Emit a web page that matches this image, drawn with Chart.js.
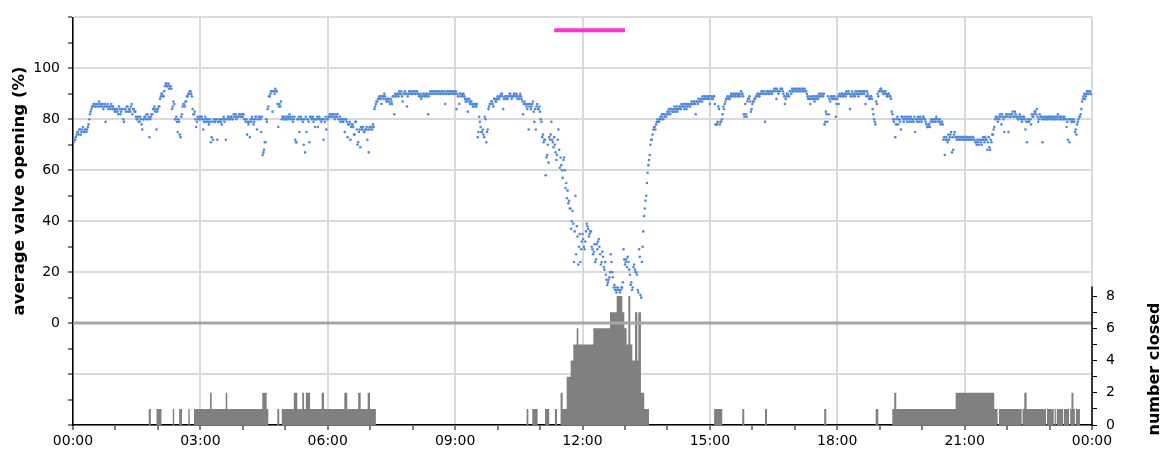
<!DOCTYPE html>
<html>
<head>
<meta charset="utf-8">
<title>Valve opening and closures over 24 hours</title>
<script src="https://cdn.jsdelivr.net/npm/chart.js@4.4.1/dist/chart.umd.min.js"></script>
<style>
  html, body { margin: 0; padding: 0; background: #fff; }
  #wrap { width: 1165px; height: 450px; }
</style>
</head>
<body>
<div id="wrap"><canvas id="c" width="1165" height="450"></canvas></div>
<script>
// Average valve opening (%), sampled every minute. One pair of rows per hour:
// "a" rows hold the even minutes (0, 2, ... 58), "b" rows the odd minutes (1, 3, ... 59).
const openingH00a = [70,72,73,75,74,76,75,77,75,76,76,78,82,84,85,86,85,86,86,85,86,86,85,79,85,84,85,86,84,84];
const openingH00b = [71,72,74,75,76,74,76,75,76,75,77,80,83,85,86,85,86,85,87,86,85,84,86,85,86,85,84,85,85,83];
const openingH01a = [83,84,82,84,83,84,79,84,85,83,84,85,82,84,83,80,81,79,80,76,80,81,82,80,73,81,82,84,83,76];
const openingH01b = [84,83,85,82,84,80,84,83,85,84,83,86,84,83,81,80,79,81,78,80,81,80,82,81,80,82,84,85,84,83];
const openingH02a = [84,85,89,90,89,93,94,93,92,93,84,87,80,81,75,79,73,82,86,85,87,89,90,91,89,82,83,77,81,80];
const openingH02b = [85,88,90,89,91,94,93,94,93,92,85,86,80,79,80,74,81,85,86,87,89,90,91,90,84,82,80,79,80,81];
const openingH03a = [80,81,76,80,79,80,78,79,73,72,79,80,72,79,80,78,80,79,72,80,81,80,81,80,81,82,81,81,82,81];
const openingH03b = [81,80,79,81,80,79,80,71,79,80,79,80,79,80,79,80,81,80,80,81,80,81,80,82,81,80,81,82,81,82];
const openingH04a = [81,80,79,74,78,73,79,80,79,81,76,80,81,75,66,68,71,79,85,89,91,83,91,92,91,77,86,87,81,80];
const openingH04b = [82,80,80,79,79,80,81,78,80,81,80,81,80,81,67,71,80,84,89,90,91,91,90,91,86,85,85,80,81,80];
const openingH05a = [81,80,81,82,80,81,80,72,71,80,75,81,80,70,67,75,80,71,81,80,79,77,80,77,81,80,80,72,79,76];
const openingH05b = [80,81,80,81,80,79,81,71,80,81,80,80,79,80,81,80,79,81,80,81,80,80,81,80,80,79,80,80,81,80];
const openingH06a = [80,81,82,81,82,80,81,82,80,79,80,79,75,80,73,78,72,78,77,74,79,70,75,69,76,77,75,76,72,67];
const openingH06b = [81,82,81,82,81,82,81,80,81,80,79,80,80,79,78,79,77,78,74,79,76,71,76,77,76,75,76,77,76,77];
const openingH07a = [76,77,78,84,86,87,88,89,86,89,90,88,87,88,86,87,89,82,89,90,89,90,91,87,90,90,85,90,91,90];
const openingH07b = [77,76,77,85,87,88,89,88,89,88,89,87,88,87,88,86,89,90,89,90,91,90,89,90,91,90,89,91,90,91];
const openingH08a = [90,91,90,91,90,89,88,89,90,89,89,82,90,91,90,91,90,91,90,91,90,91,90,86,90,91,90,90,91,90];
const openingH08b = [91,90,91,90,89,90,89,90,89,90,90,89,91,90,91,90,91,90,91,90,91,90,91,90,91,90,91,91,90,91];
const openingH09a = [90,84,89,86,90,89,90,88,87,83,88,87,86,85,86,85,73,81,77,75,74,81,71,76,85,86,87,85,88,87];
const openingH09b = [91,90,89,90,89,90,89,87,88,87,86,87,85,86,85,86,75,79,75,76,73,80,75,84,86,87,86,88,87,88];
const openingH10a = [89,88,89,90,84,88,89,88,89,90,88,89,90,89,88,89,90,88,82,87,86,84,76,86,85,87,79,76,86,84];
const openingH10b = [88,89,90,89,88,89,88,89,90,89,89,90,89,90,89,88,89,87,86,86,85,86,85,84,86,83,84,85,84,85];
const openingH11a = [83,79,74,72,58,66,63,72,79,71,73,67,66,76,61,62,57,65,53,49,47,45,37,44,24,50,38,23,35,29];
const openingH11b = [80,73,71,72,65,70,73,74,72,69,70,64,72,68,65,60,64,60,55,52,48,45,40,39,36,27,34,30,24,32];
const openingH12a = [35,30,32,39,37,35,36,29,28,24,31,32,30,23,28,22,24,17,16,18,27,20,14,13,12,14,13,13,14,29];
const openingH12b = [33,29,36,38,34,36,30,27,31,25,29,33,27,24,26,21,19,15,17,20,24,18,15,14,13,13,12,14,16,25];
const openingH13a = [23,25,26,21,15,13,22,21,20,13,29,11,24,36,45,50,59,64,70,72,76,77,78,80,79,81,82,80,82,81];
const openingH13b = [24,22,24,19,16,14,23,20,19,12,26,10,30,42,48,55,62,66,72,74,77,76,79,79,80,80,81,82,81,82];
const openingH14a = [83,84,82,84,83,85,84,83,84,85,86,85,84,86,85,86,85,87,86,87,82,87,88,87,88,89,88,89,88,89];
const openingH14b = [82,83,84,83,84,83,85,84,85,84,85,86,85,84,86,85,86,86,87,86,87,86,87,88,87,88,89,88,89,88];
const openingH15a = [86,89,88,89,78,78,85,78,79,82,84,87,88,89,88,90,89,90,89,90,89,90,91,90,82,86,81,88,89,83];
const openingH15b = [89,88,89,86,78,79,84,79,80,85,86,88,89,88,89,89,90,89,90,89,90,89,90,89,81,82,87,88,87,84];
const openingH16a = [86,87,88,89,90,89,90,91,90,79,90,91,90,91,90,91,92,88,91,91,92,92,90,86,89,90,89,91,92,91];
const openingH16b = [87,88,89,90,89,90,91,90,91,90,91,90,91,90,91,92,91,92,90,91,92,91,89,88,90,89,91,90,91,92];
const openingH17a = [91,92,91,92,91,92,91,92,91,89,88,86,88,89,87,88,89,90,89,90,89,78,83,79,82,87,89,88,89,81];
const openingH17b = [92,91,92,91,92,91,92,91,90,88,89,88,89,88,89,89,88,89,90,89,90,79,82,89,88,89,88,89,88,86];
const openingH18a = [88,86,89,90,89,90,89,90,91,84,90,89,90,91,90,89,91,90,91,90,86,91,89,88,89,84,80,78,86,89];
const openingH18b = [89,90,89,90,89,90,91,90,90,89,91,90,89,90,91,90,91,90,91,91,89,90,88,89,88,82,79,87,90,91];
const openingH19a = [91,92,91,90,91,89,90,89,88,82,79,73,80,78,80,76,81,79,80,81,80,79,81,80,79,75,80,81,79,80];
const openingH19b = [92,91,90,91,90,89,90,89,83,80,80,78,81,80,79,81,80,81,80,79,81,80,79,80,81,80,79,80,81,79];
const openingH20a = [80,81,80,78,77,78,79,80,79,80,81,80,79,78,79,72,66,73,71,72,74,67,68,75,73,72,73,72,73,72];
const openingH20b = [81,80,79,77,78,77,80,79,80,79,80,79,80,79,78,73,72,72,74,73,75,73,74,73,72,73,72,73,72,73];
const openingH21a = [73,72,73,72,73,72,73,72,71,72,70,72,70,73,71,72,68,73,68,71,74,77,81,80,81,82,78,81,75,81];
const openingH21b = [72,73,72,73,72,73,72,71,70,71,72,71,72,72,73,72,71,69,72,74,76,80,81,79,80,81,82,80,81,82];
const openingH22a = [82,75,81,82,83,81,82,81,80,82,81,80,81,76,71,79,80,78,81,82,83,84,79,82,81,71,80,81,80,81];
const openingH22b = [81,82,81,82,81,83,81,80,81,80,79,81,80,79,80,79,80,82,81,83,82,81,80,81,80,81,80,81,80,81];
const openingH23a = [80,81,80,81,80,81,82,80,81,80,81,80,77,72,71,80,79,80,75,74,79,81,82,87,89,88,90,90,91,90];
const openingH23b = [81,80,81,80,81,80,81,80,81,80,81,80,79,80,80,79,80,79,76,78,80,81,84,88,90,89,91,90,91,90];

// Number of closed valves: each count holds from its start minute until the next one.
const closedStartMin = [
  0, 107, 110, 118, 125, 141, 143, 150, 154, 163, 165,
  171, 193.6, 196, 215.8, 218, 267.5, 273.7, 276,
  288.7, 291.5, 295, 312, 317, 324, 326.5, 329, 335, 351.4, 354.7,
  383.4, 387.6, 403, 406.5, 416.4, 419.7, 428,
  641, 643.5, 649, 656.6, 667, 673, 681, 684,
  689, 692, 697.6, 703.3, 707, 711.8, 714.1, 735.3, 758.9, 768.3,
  776.3, 779.1, 782.4, 784.8, 787.6, 790.4, 794.2, 797.5, 798.9, 802.6, 807.3, 814,
  906, 917.5, 945.8, 948.6, 977.9, 980.7, 1061.6, 1064.5, 1134.3, 1138,
  1157.8, 1160.6, 1163.4, 1247.3, 1301.9, 1306.6, 1308.5, 1340.6, 1341.8,
  1344.3, 1347.6, 1375, 1376.4, 1386, 1387.2, 1389, 1390.2, 1399, 1400.2,
  1407.6, 1409.2, 1411, 1413.8, 1415.8, 1417.2, 1423, 1440
];
const closedCount = [
  0, 1, 0, 1, 0, 1, 0, 1, 0, 1, 0,
  1, 2, 1, 2, 1, 2, 1, 0,
  1, 0, 1, 2, 1, 2, 1, 2, 1, 2, 1,
  2, 1, 2, 1, 2, 1, 0,
  1, 0, 1, 0, 1, 0, 1, 0,
  2, 1, 3, 4, 5, 6, 5, 6, 7, 8,
  7, 6, 5, 8, 5, 4, 7, 4, 7, 2, 1, 0,
  1, 0, 1, 0, 1, 0, 1, 0, 1, 0,
  1, 2, 1, 2, 1, 0, 1, 0, 1,
  2, 1, 0, 1, 0, 1, 0, 1, 0, 1,
  0, 1, 2, 1, 0, 1, 0, 0
];

// Magenta marker interval near the top of the chart (minutes, level in %).
const markerStartMin = 680;
const markerEndMin = 780;
const markerLevel = 115;

// Axis ranges and tick labels.
const timeTickLabels = ['00:00','03:00','06:00','09:00','12:00','15:00','18:00','21:00','00:00'];
const openingTickLabels = [0, 20, 40, 60, 80, 100];
const closedTickLabels = [0, 2, 4, 6, 8];
const openingMin = -40, openingMax = 120;
const closedMax = 25.3;
const closedAxisTop = 8.6;

const openingEvenRows = [openingH00a, openingH01a, openingH02a, openingH03a, openingH04a, openingH05a,
  openingH06a, openingH07a, openingH08a, openingH09a, openingH10a, openingH11a,
  openingH12a, openingH13a, openingH14a, openingH15a, openingH16a, openingH17a,
  openingH18a, openingH19a, openingH20a, openingH21a, openingH22a, openingH23a];
const openingOddRows = [openingH00b, openingH01b, openingH02b, openingH03b, openingH04b, openingH05b,
  openingH06b, openingH07b, openingH08b, openingH09b, openingH10b, openingH11b,
  openingH12b, openingH13b, openingH14b, openingH15b, openingH16b, openingH17b,
  openingH18b, openingH19b, openingH20b, openingH21b, openingH22b, openingH23b];

const openingPoints = [];
for (let h = 0; h < 24; h++) {
  for (let i = 0; i < 30; i++) {
    openingPoints.push({ x: h * 60 + i * 2, y: openingEvenRows[h][i] });
    openingPoints.push({ x: h * 60 + i * 2 + 1, y: openingOddRows[h][i] });
  }
}
const closedPoints = closedStartMin.map((t, i) => ({ x: t, y: closedCount[i] }));

const FONT = '"DejaVu Sans", Verdana, sans-serif';
Chart.defaults.font.family = FONT;
Chart.defaults.font.size = 14;
Chart.defaults.color = '#000';

// Axis titles and the partial right-hand axis line.
const axisDecor = {
  id: 'axisDecor',
  afterDraw(chart) {
    const c = chart.ctx;
    const y2 = chart.scales.y2;
    const xr = chart.chartArea.right;
    c.save();
    c.strokeStyle = '#000';
    c.lineWidth = 1.5;
    c.beginPath();
    c.moveTo(xr, y2.getPixelForValue(0) + 0.5);
    c.lineTo(xr, y2.getPixelForValue(closedAxisTop));
    c.stroke();

    c.fillStyle = '#000';
    c.font = 'bold 16.5px ' + FONT;
    c.textAlign = 'center';
    c.textBaseline = 'middle';
    c.translate(20, 191);
    c.rotate(-Math.PI / 2);
    c.fillText('average valve opening (%)', 0, 0);
    c.restore();

    c.save();
    c.fillStyle = '#000';
    c.font = 'bold 16px ' + FONT;
    c.textAlign = 'center';
    c.textBaseline = 'middle';
    c.translate(1155, 369);
    c.rotate(-Math.PI / 2);
    c.fillText('number closed', 0, 0);
    c.restore();
  }
};

new Chart(document.getElementById('c'), {
  data: {
    datasets: [
      {
        type: 'scatter',
        label: 'average valve opening',
        data: openingPoints,
        yAxisID: 'y',
        pointRadius: 1.3,
        pointHoverRadius: 0,
        pointBorderWidth: 0,
        backgroundColor: '#5089dc',
        borderColor: '#5089dc'
      },
      {
        type: 'line',
        label: 'marker',
        data: [{ x: markerStartMin, y: markerLevel }, { x: markerEndMin, y: markerLevel }],
        yAxisID: 'y',
        borderColor: '#ff33cc',
        borderWidth: 4,
        pointRadius: 0,
        fill: false
      },
      {
        type: 'line',
        label: 'zero',
        data: [{ x: 0, y: 0 }, { x: 1440, y: 0 }],
        yAxisID: 'y',
        borderColor: '#a6a6a6',
        borderWidth: 3,
        pointRadius: 0,
        fill: false
      },
      {
        type: 'line',
        label: 'number closed',
        data: closedPoints,
        yAxisID: 'y2',
        stepped: 'before',
        fill: 'origin',
        backgroundColor: '#808080',
        borderColor: 'rgba(0,0,0,0)',
        borderWidth: 0,
        pointRadius: 0
      }
    ]
  },
  options: {
    responsive: false,
    animation: false,
    events: [],
    layout: { padding: { top: 16, left: 0, right: 0, bottom: 0 } },
    plugins: { legend: { display: false }, tooltip: { enabled: false } },
    scales: {
      x: {
        type: 'linear',
        min: 0,
        max: 1440,
        afterFit(s) { s.height = 25; },
        ticks: {
          stepSize: 60,
          autoSkip: false,
          maxRotation: 0,
          padding: 3,
          color: '#000',
          callback: (v) => (v % 180 === 0 ? timeTickLabels[v / 180] : '')
        },
        grid: {
          color: (ctx) => (ctx.tick && ctx.tick.value % 180 === 0 ? '#dadada' : 'rgba(0,0,0,0)'),
          lineWidth: 2,
          tickColor: '#000',
          tickLength: 5,
          tickWidth: 1
        },
        border: { color: '#000', width: 1.5 }
      },
      y: {
        position: 'left',
        min: openingMin,
        max: openingMax,
        afterFit(s) { s.width = 73; },
        ticks: {
          stepSize: 10,
          autoSkip: false,
          padding: 8,
          color: '#000',
          callback: (v) => (openingTickLabels.includes(v) ? String(v) : '')
        },
        grid: {
          color: (ctx) => (ctx.tick && ctx.tick.value % 20 === 0 && ctx.tick.value !== 0 ? '#dadada' : 'rgba(0,0,0,0)'),
          lineWidth: 2,
          tickColor: '#000',
          tickLength: 5,
          tickWidth: 1
        },
        border: { color: '#000', width: 1.5 }
      },
      y2: {
        position: 'right',
        min: 0,
        max: closedMax,
        afterFit(s) { s.width = 73; },
        ticks: {
          stepSize: 1,
          autoSkip: false,
          padding: 9,
          color: '#000',
          callback: (v) => (closedTickLabels.includes(v) ? String(v) : '')
        },
        grid: {
          drawOnChartArea: false,
          tickColor: (ctx) => (ctx.tick && ctx.tick.value <= 8 ? '#000' : 'rgba(0,0,0,0)'),
          tickLength: 5,
          tickWidth: 1
        },
        border: { display: false }
      }
    }
  },
  plugins: [axisDecor]
});
</script>
</body>
</html>
